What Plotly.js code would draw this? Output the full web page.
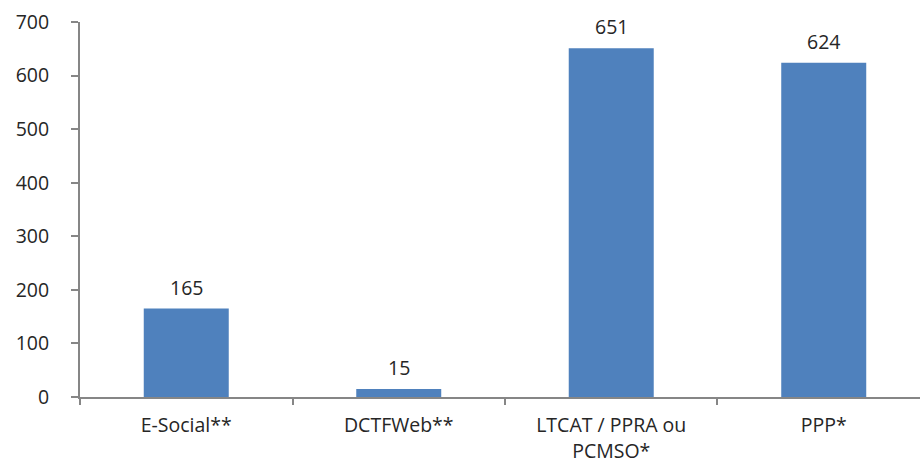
<!DOCTYPE html>
<html>
<head>
<meta charset="utf-8">
<script src="https://cdn.plot.ly/plotly-3.0.1.min.js"></script>
<style>html,body{margin:0;padding:0;background:#fff;}#chart{width:920px;height:465px;}</style>
</head>
<body>
<div id="chart"></div>
<script>
var categories = ["E-Social**", "DCTFWeb**", "LTCAT / PPRA ou<br>PCMSO*", "PPP*"];
var values = [165, 15, 651, 624];
var valueLabels = ["165", "15", "651", "624"];
var yTicks = [0, 100, 200, 300, 400, 500, 600, 700];

var font = {family: "Open Sans, Liberation Sans, sans-serif", size: 19.5, color: "#262626"};

var annotations = categories.map(function (c, i) {
  return {
    x: c, y: values[i], xref: "x", yref: "y",
    text: valueLabels[i], showarrow: false,
    yanchor: "bottom", yshift: 6,
    font: font
  };
});

Plotly.newPlot("chart", [{
  type: "bar",
  x: categories,
  y: values,
  marker: {color: "#4F81BD"},
  width: 0.4,
  hoverinfo: "none"
}], {
  width: 920, height: 465,
  margin: {l: 80, r: 0, t: 22, b: 68},
  paper_bgcolor: "#fff", plot_bgcolor: "#fff",
  showlegend: false,
  font: font,
  annotations: annotations,
  xaxis: {
    type: "category",
    range: [-0.5, 3.453],
    showline: true, linecolor: "#868686", linewidth: 2,
    ticks: "outside", tickson: "boundaries", ticklen: 6, tickcolor: "#868686", tickwidth: 2,
    ticklabelstandoff: 10,
    tickfont: font,
    showgrid: false, zeroline: false, fixedrange: true
  },
  yaxis: {
    range: [0, 700],
    tickvals: yTicks,
    ticktext: yTicks.map(String),
    showline: true, linecolor: "#868686", linewidth: 2,
    ticks: "outside", ticklen: 7, tickcolor: "#868686", tickwidth: 2,
    ticklabelstandoff: 18,
    tickfont: font,
    showgrid: false, zeroline: false, fixedrange: true
  }
}, {displayModeBar: false, staticPlot: true});
</script>
</body>
</html>
